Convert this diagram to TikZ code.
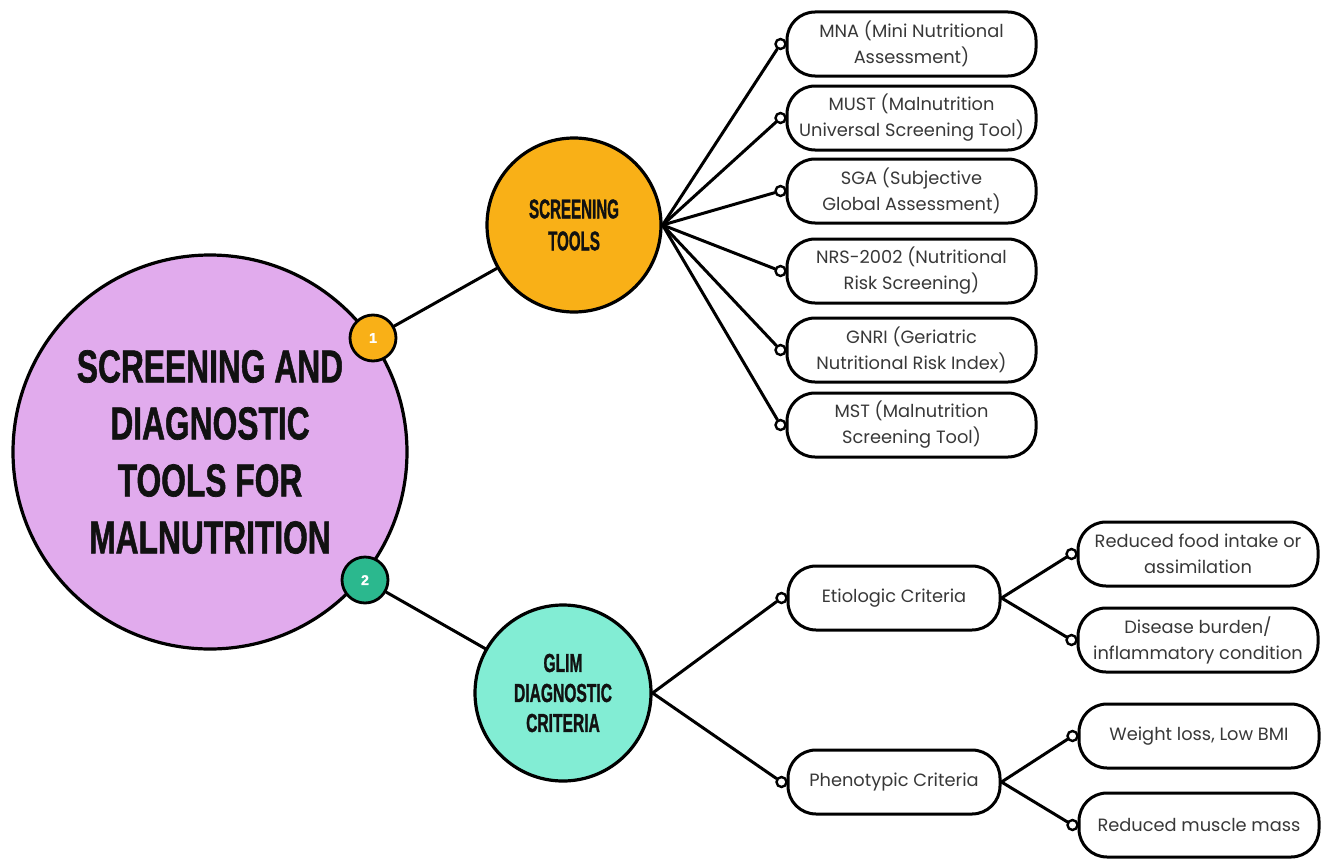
\documentclass[tikz,border=0pt]{standalone}
\usepackage{fontspec}
\setmainfont{Poppins}
\newfontfamily\headfont{Liberation Sans}[BoldFeatures={FakeBold=1.5}]
\usetikzlibrary{calc}

\definecolor{lilac}{HTML}{E1ABED}
\definecolor{amber}{HTML}{F9B017}
\definecolor{mint}{HTML}{82EDD4}
\definecolor{badgegreen}{HTML}{2BB88E}
\definecolor{boxtext}{HTML}{383838}
\definecolor{headtext}{HTML}{111111}

% condensed heading lines: bold sans squeezed horizontally
\newcommand\cond[2]{\scalebox{#1}[1]{#2}}

\tikzset{
  hub/.style={circle, draw=black, line width=3.2pt, inner sep=0pt, align=center, text=headtext},
  badge/.style={circle, draw=black, line width=2.8pt, inner sep=0pt, minimum size=46pt,
                text=white, font=\headfont\bfseries\fontsize{14}{14}\selectfont},
  itembox/.style={draw=black, line width=3pt, rounded corners=28pt, minimum height=64pt,
                  fill=white, align=center, text=boxtext, font=\fontsize{17.8}{26}\selectfont},
  dot/.style={circle, draw=black, line width=2.4pt, fill=white, minimum size=10pt, inner sep=0pt},
  link/.style={line width=3pt, line cap=round}
}

\begin{document}
\begin{tikzpicture}[x=1pt,y=-1pt]
\useasboundingbox (0,0) rectangle (1322,859);

% central topic
\node[hub, fill=lilac, minimum size=394pt,
      font=\headfont\bfseries\fontsize{46}{57}\selectfont] (main) at (210,452)
  {\cond{0.69}{SCREENING AND}\\\cond{0.69}{DIAGNOSTIC}\\\cond{0.69}{TOOLS FOR}\\\cond{0.69}{MALNUTRITION}};

% branch hubs
\node[hub, fill=amber, minimum size=174pt,
      font=\headfont\bfseries\fontsize{27}{32}\selectfont] (scr) at (574,225)
  {\cond{0.56}{SCREENING}\\\cond{0.56}{TOOLS}};
\node[hub, fill=mint, minimum size=176pt,
      font=\headfont\bfseries\fontsize{26}{30}\selectfont] (glim) at (563,693)
  {\cond{0.6}{GLIM}\\\cond{0.6}{DIAGNOSTIC}\\\cond{0.6}{CRITERIA}};

% numbered badges on the central circle
\node[badge, fill=amber] (b1) at (373,338) {1};
\node[badge, fill=badgegreen] (b2) at (365,580) {2};
\draw[link] (b1) -- (scr);
\draw[link] (b2) -- (glim);

% screening tools
\node[itembox, minimum width=249pt] (m1) at (911.5,44)  {MNA (Mini Nutritional\\Assessment)};
\node[itembox, minimum width=249pt] (m2) at (911.5,118) {MUST (Malnutrition\\Universal Screening Tool)};
\node[itembox, minimum width=249pt] (m3) at (911.5,191) {SGA (Subjective\\Global Assessment)};
\node[itembox, minimum width=249pt] (m4) at (911.5,271) {NRS-2002 (Nutritional\\Risk Screening)};
\node[itembox, minimum width=249pt] (m5) at (911.5,350) {GNRI (Geriatric\\Nutritional Risk Index)};
\node[itembox, minimum width=249pt] (m6) at (911.5,425) {MST (Malnutrition\\Screening Tool)};

\foreach \i in {1,...,6} {
  \node[dot] (dm\i) at ($(m\i.west)+(-5,0)$) {};
  \draw[link] (scr.east) -- (dm\i);
}

% GLIM criteria
\node[itembox, minimum width=212pt] (eti) at (894,598) {Etiologic Criteria};
\node[itembox, minimum width=212pt] (phe) at (894,782) {Phenotypic Criteria};
\node[dot] (deti) at ($(eti.west)+(-5,0)$) {};
\node[dot] (dphe) at ($(phe.west)+(-5,0)$) {};
\draw[link] (glim.east) -- (deti);
\draw[link] (glim.east) -- (dphe);

% etiologic sub-criteria
\node[itembox, minimum width=240pt] (e1) at (1198,554) {Reduced food intake or\\assimilation};
\node[itembox, minimum width=240pt] (e2) at (1198,640) {Disease burden/\\inflammatory condition};
\node[dot] (de1) at ($(e1.west)+(-5,0)$) {};
\node[dot] (de2) at ($(e2.west)+(-5,0)$) {};
\draw[link] (eti.east) -- (de1);
\draw[link] (eti.east) -- (de2);

% phenotypic sub-criteria
\node[itembox, minimum width=240pt] (p1) at (1199,736) {Weight loss, Low BMI};
\node[itembox, minimum width=240pt] (p2) at (1199,825) {Reduced muscle mass};
\node[dot] (dp1) at ($(p1.west)+(-5,0)$) {};
\node[dot] (dp2) at ($(p2.west)+(-5,0)$) {};
\draw[link] (phe.east) -- (dp1);
\draw[link] (phe.east) -- (dp2);
\end{tikzpicture}
\end{document}
